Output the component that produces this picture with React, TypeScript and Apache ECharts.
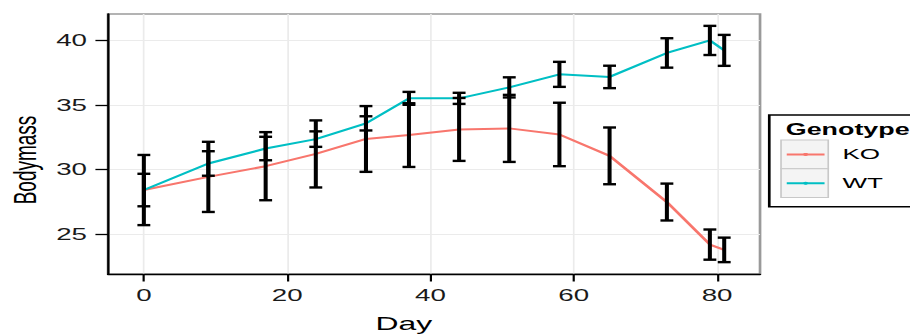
import React, { useEffect, useRef } from 'react';
import * as echarts from 'echarts';

// ---- data ----
const days = [0, 9, 17, 24, 31, 37, 44, 51, 58, 65, 73, 79, 81];
const koMean = [28.4, 29.42, 30.25, 31.2, 32.36, 32.66, 33.1, 33.18, 32.71, 31.05, 27.47, 24.17, 23.76];
const koSE = [2.72, 2.72, 2.64, 2.6, 2.55, 2.47, 2.44, 2.6, 2.46, 2.2, 1.43, 1.17, 0.95];
const wtMean = [28.4, 30.46, 31.62, 32.35, 33.57, 35.51, 35.51, 36.36, 37.37, 37.17, 39.03, 40.0, 39.23];
const wtSE = [1.26, 0.95, 0.91, 0.6, 0.55, 0.5, 0.43, 0.78, 0.97, 0.87, 1.14, 1.13, 1.2];
const genotypes = ['KO', 'WT'];
const genotypeColors = ['#F8766D', '#00BFC4'];
const xTicks = [0, 20, 40, 60, 80];
const yTicks = [25, 30, 35, 40];
const xTitle = 'Day';
const yTitle = 'Bodymass';
const legendTitle = 'Genotype';

// the reference image is horizontally stretched
const SX = 1.68;
const W = 910 / SX;
const H = 335;
const FONT = '"Liberation Sans", Arial, Helvetica, sans-serif';
const CAP_HALF = 0.9; // error bar half-width in days

const means = [koMean, wtMean];
const ses = [koSE, wtSE];

function buildOption() {
  const lineSeries = genotypes.map((g, k) => ({
    type: 'line',
    name: g,
    data: days.map((d, i) => [d, means[k][i]]),
    showSymbol: false,
    lineStyle: { color: genotypeColors[k], width: 2 },
    itemStyle: { color: genotypeColors[k] },
    z: 2,
  }));

  const errSeries = genotypes.map((g, k) => ({
    type: 'custom',
    name: g + ' SE',
    data: days.map((d, i) => [d, means[k][i] - ses[k][i], means[k][i] + ses[k][i]]),
    encode: { x: 0, y: [1, 2] },
    z: 3,
    renderItem: (params: any, api: any) => {
      const x = api.value(0);
      const lo = api.value(1);
      const hi = api.value(2);
      const top = api.coord([x, hi]);
      const bot = api.coord([x, lo]);
      const l = api.coord([x - CAP_HALF, hi])[0];
      const r = api.coord([x + CAP_HALF, hi])[0];
      const style = { stroke: '#000', lineWidth: 2.4, fill: null };
      return {
        type: 'group',
        children: [
          { type: 'line', shape: { x1: top[0], y1: top[1], x2: bot[0], y2: bot[1] }, style },
          { type: 'line', shape: { x1: l, y1: top[1], x2: r, y2: top[1] }, style },
          { type: 'line', shape: { x1: l, y1: bot[1], x2: r, y2: bot[1] }, style },
        ],
      };
    },
  }));

  const legendX = 457.9;
  const keyX = 464.9;
  const keyW = 28.1;
  const keyH = 28.8;
  const keyTop = 140;
  const legendGraphics: any[] = [
    {
      type: 'rect',
      shape: { x: legendX, y: 115, width: 120, height: 91.7 },
      style: { fill: '#fff', stroke: '#000', lineWidth: 1.6 },
      z: 10,
    },
    {
      type: 'text',
      x: 467.7,
      y: 130,
      style: {
        text: legendTitle,
        font: `bold 16px ${FONT}`,
        fill: '#000',
        textAlign: 'left',
        textVerticalAlign: 'middle',
      },
      z: 11,
    },
  ];
  genotypes.forEach((g, k) => {
    const yTop = keyTop + k * keyH;
    const yMid = yTop + keyH / 2;
    legendGraphics.push(
      {
        type: 'rect',
        shape: { x: keyX, y: yTop, width: keyW, height: keyH },
        style: { fill: '#F4F4F4', stroke: '#C8C8C8', lineWidth: 1 },
        z: 11,
      },
      {
        type: 'line',
        shape: { x1: keyX + 3.4, y1: yMid, x2: keyX + keyW - 2.2, y2: yMid },
        style: { stroke: genotypeColors[k], lineWidth: 2 },
        z: 12,
      },
      {
        type: 'circle',
        shape: { cx: keyX + keyW / 2 + 0.6, cy: yMid, r: 1.5 },
        style: { fill: genotypeColors[k] },
        z: 12,
      },
      {
        type: 'text',
        x: 501.5,
        y: yMid,
        style: {
          text: g,
          font: `15.5px ${FONT}`,
          fill: '#000',
          textAlign: 'left',
          textVerticalAlign: 'middle',
        },
        z: 12,
      }
    );
  });

  return {
    animation: false,
    backgroundColor: '#fff',
    grid: {
      left: 64.3,
      top: 14,
      width: 388.1,
      height: 260,
      show: true,
      borderColor: '#9a9a9a',
      borderWidth: 1.6,
      backgroundColor: 'transparent',
    },
    xAxis: {
      type: 'value',
      min: -5,
      max: 86,
      axisLine: { show: true, onZero: false, lineStyle: { color: '#000', width: 1.4 } },
      axisTick: { show: true, length: 7.5, customValues: xTicks, lineStyle: { color: '#000', width: 1.3 } },
      axisLabel: {
        customValues: xTicks,
        margin: 12.5,
        fontFamily: FONT,
        fontSize: 16.5,
        color: '#1a1a1a',
      },
      splitLine: { show: true, lineStyle: { color: '#EBEBEB', width: 1 } },
    },
    yAxis: {
      type: 'value',
      min: 21.89,
      max: 42.05,
      axisLine: { show: true, onZero: false, lineStyle: { color: '#000', width: 1.4 } },
      axisTick: { show: true, length: 7.5, customValues: yTicks, lineStyle: { color: '#000', width: 1.3 } },
      axisLabel: {
        customValues: yTicks,
        margin: 12.5,
        fontFamily: FONT,
        fontSize: 16.5,
        color: '#1a1a1a',
      },
      splitLine: { show: true, lineStyle: { color: '#EBEBEB', width: 1 } },
    },
    graphic: [
      {
        type: 'text',
        x: 240.4,
        y: 323.5,
        style: {
          text: xTitle,
          font: `19px ${FONT}`,
          fill: '#000',
          textAlign: 'center',
          textVerticalAlign: 'middle',
        },
      },
      {
        type: 'text',
        x: 14.7,
        y: 160,
        rotation: Math.PI / 2,
        style: {
          text: yTitle,
          font: `19px ${FONT}`,
          fill: '#000',
          textAlign: 'center',
          textVerticalAlign: 'middle',
        },
      },
      ...legendGraphics,
    ],
    series: [...lineSeries, ...errSeries],
  };
}

export default function App() {
  const ref = useRef<HTMLDivElement>(null);
  useEffect(() => {
    document.body.style.margin = '0';
    const chart = echarts.init(ref.current as HTMLDivElement, null, { renderer: 'svg' });
    chart.setOption(buildOption() as any);
    return () => chart.dispose();
  }, []);
  return (
    <div style={{ width: 910, height: H, overflow: 'hidden', position: 'relative', background: '#fff' }}>
      <div
        ref={ref}
        style={{ width: W, height: H, transform: `scaleX(${SX})`, transformOrigin: '0 0' }}
      />
    </div>
  );
}
